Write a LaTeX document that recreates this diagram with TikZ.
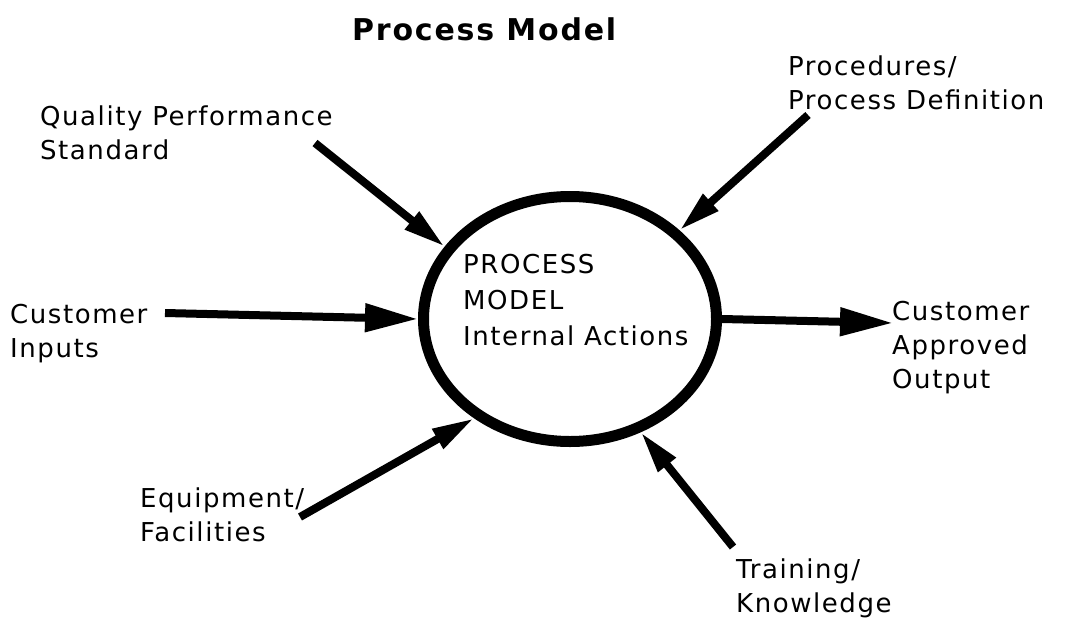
\documentclass[tikz,border=0pt]{standalone}
\usepackage{fontspec}
\setmainfont{DejaVu Sans}[LetterSpace=6]
\usetikzlibrary{arrows.meta,shapes.geometric}
\begin{document}
\begin{tikzpicture}[x=1pt,y=-1pt,
  % multi-line labels: the base anchor sits on the last line
  lbl/.style={anchor=base west,align=left,inner sep=0pt,
    font=\fontsize{26}{34}\selectfont},
  feed/.style={line width=8pt,-{Triangle[length=42pt,width=21pt]}},
  flow/.style={line width=8pt,-{Triangle[length=53pt,width=27pt]}}]
  \useasboundingbox[fill=white] (0,0) rectangle (1065,621);

  % title
  \node[anchor=base west,inner sep=0pt,font=\fontsize{30}{36}\selectfont\bfseries]
    (title) at (352,40) {Process Model};

  % the process itself
  \node[draw,ellipse,line width=11pt,minimum width=293pt,minimum height=245pt,
    inner sep=0pt,outer sep=5.5pt] (ell) at (570,319) {};
  \node[lbl,font=\fontsize{26}{36}\selectfont] (inner) at (463,345)
    {PROCESS\\MODEL\\Internal Actions};

  % labels round the process
  \node[lbl] (qps)  at (40,159)  {Quality Performance\\Standard};
  \node[lbl] (proc) at (788,109) {Procedures/\\Process Definition};
  \node[lbl] (cin)  at (10,357)  {Customer\\Inputs};
  \node[lbl] (cout) at (892,388) {Customer\\Approved\\Output};
  \node[lbl] (equip) at (140,541) {Equipment/\\Facilities};
  \node[lbl] (train) at (736,612) {Training/\\Knowledge};

  % arrow tails
  \coordinate (qpsT)   at (315,143);
  \coordinate (procT)  at (808,115);
  \coordinate (cinT)   at (165,313);
  \coordinate (coutT)  at (893,323);
  \coordinate (equipT) at (300,517);
  \coordinate (trainT) at (733,547);

  % connectors
  \draw[feed] (qpsT) -- (ell.150);
  \draw[feed] (procT) -- (ell.39.6);
  \draw[flow] (cinT) -- (ell.west);
  \draw[flow] (ell.east) -- (coutT);
  \draw[feed] (equipT) -- (ell.226);
  \draw[feed] (trainT) -- (ell.-58.6);
\end{tikzpicture}
\end{document}
